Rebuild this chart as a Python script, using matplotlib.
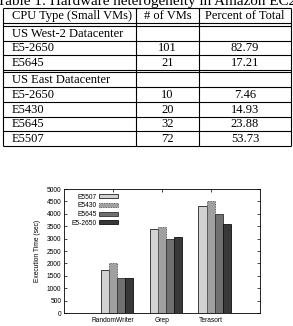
import matplotlib
matplotlib.use("Agg")
import matplotlib.pyplot as plt
import numpy as np

# ---------------- data ----------------
title_text = "Table 1: Hardware heterogeneity in Amazon EC2"
table_header = ["CPU Type (Small VMs)", "# of VMs", "Percent of Total"]
west_name = "US West-2 Datacenter"
west_cpu = ["E5-2650", "E5645"]
west_vms = ["101", "21"]
west_pct = ["82.79", "17.21"]
east_name = "US East Datacenter"
east_cpu = ["E5-2650", "E5430", "E5645", "E5507"]
east_vms = ["10", "20", "32", "72"]
east_pct = ["7.46", "14.93", "23.88", "53.73"]

benchmarks = ["RandomWriter", "Grep", "Terasort"]
series_names = ["E5507", "E5430", "E5645", "E5-2650"]
e5507 = [1740, 3370, 4330]
e5430 = [2005, 3450, 4520]
e5645 = [1430, 2995, 3985]
e52650 = [1417, 3075, 3570]
yticks = [0, 500, 1000, 1500, 2000, 2500, 3000, 3500, 4000, 4500, 5000]

# ---------------- figure ----------------
W, H = 293, 326
fig = plt.figure(figsize=(W / 100, H / 100), dpi=100)
fig.patch.set_facecolor("white")

# overlay axes in pixel coordinates for the table
tax = fig.add_axes([0, 0, 1, 1])
tax.set_xlim(0, W)
tax.set_ylim(H, 0)
tax.axis("off")

serif = "Liberation Serif"
tfs = 9.0
lw = 0.8

tax.text(147, 4.8, title_text, family=serif, fontsize=10.9, ha="center",
         va="baseline", color="black")

xl, xd1, xd2, xr = 2.5, 136, 199, 291
top = 8.0
rh = 14.7
hdr_bot = 23.3
dbl = 2.5

rows = []
y = hdr_bot + dbl
sections = [(west_name, west_cpu, west_vms, west_pct),
            (east_name, east_cpu, east_vms, east_pct)]
hlines = [top, hdr_bot, hdr_bot + dbl]
for si, (name, cpus, vms, pcts) in enumerate(sections):
    rows.append((y, y + rh, [name, "", ""]))
    y += rh
    hlines.append(y)
    for c, v, p in zip(cpus, vms, pcts):
        rows.append((y, y + rh, [c, v, p]))
        y += rh
        hlines.append(y)
    if si == 0:
        y += dbl
        hlines.append(y)
bottom = y

for hy in hlines:
    tax.plot([xl, xr], [hy, hy], color="black", lw=lw, solid_capstyle="butt")
for vx in [xl, xd1, xd2, xr]:
    tax.plot([vx, vx], [top, bottom], color="black", lw=lw, solid_capstyle="butt")

def put_row(y0, y1, texts):
    yc = (y0 + y1) / 2 + 0.5
    tax.text(12, yc, texts[0], family=serif, fontsize=tfs, ha="left", va="center")
    tax.text((xd1 + xd2) / 2, yc, texts[1], family=serif, fontsize=tfs, ha="center", va="center")
    tax.text((xd2 + xr) / 2, yc, texts[2], family=serif, fontsize=tfs, ha="center", va="center")

put_row(top, hdr_bot, table_header)
for y0, y1, t in rows:
    put_row(y0, y1, t)

# ---------------- bar chart ----------------
ax_l, ax_r, ax_t, ax_b = 64, 259.5, 189, 313
ax = fig.add_axes([ax_l / W, 1 - ax_b / H, (ax_r - ax_l) / W, (ax_b - ax_t) / H])

sans = "Liberation Sans"
fs = 4.8
colors = ["#d2d2d2", "#a0a0a0", "#707070", "#383838"]
edges = ["#202020", "#404040", "#303030", "#101010"]
styles = ["solid", (0, (1, 1)), "solid", "solid"]
all_series = [e5507, e5430, e5645, e52650]
x = np.arange(len(benchmarks))
bw = 0.167
for i, (vals, name) in enumerate(zip(all_series, series_names)):
    ax.bar(x - 0.25 + i * bw, vals, width=bw, align="edge", color=colors[i],
           edgecolor=edges[i], linewidth=0.6, linestyle=styles[i], label=name)

ax.set_xlim(-1, 3)
ax.set_ylim(0, 5000)
ax.set_xticks(x)
ax.set_xticklabels(benchmarks, fontsize=fs, family=sans)
ax.set_yticks(yticks)
ax.set_yticklabels([str(v) for v in yticks], fontsize=fs, family=sans)
ax.tick_params(axis="both", direction="in", length=2.5, width=0.5, top=True,
               right=True, pad=2)
ax.tick_params(axis="x", pad=3)
ax.set_axisbelow(True)
for s in ax.spines.values():
    s.set_linewidth(0.6)
ax.set_ylabel("Execution Time (sec)", fontsize=fs, family=sans, labelpad=4)

leg = ax.legend(loc="upper left", bbox_to_anchor=(0.014, 1.0), frameon=False,
                markerfirst=False, prop={"family": sans, "size": fs},
                handlelength=2.8, handleheight=0.6, labelspacing=0.25,
                handletextpad=0.4, borderaxespad=0.3)

fig.savefig("out.png", dpi=100, facecolor="white")
